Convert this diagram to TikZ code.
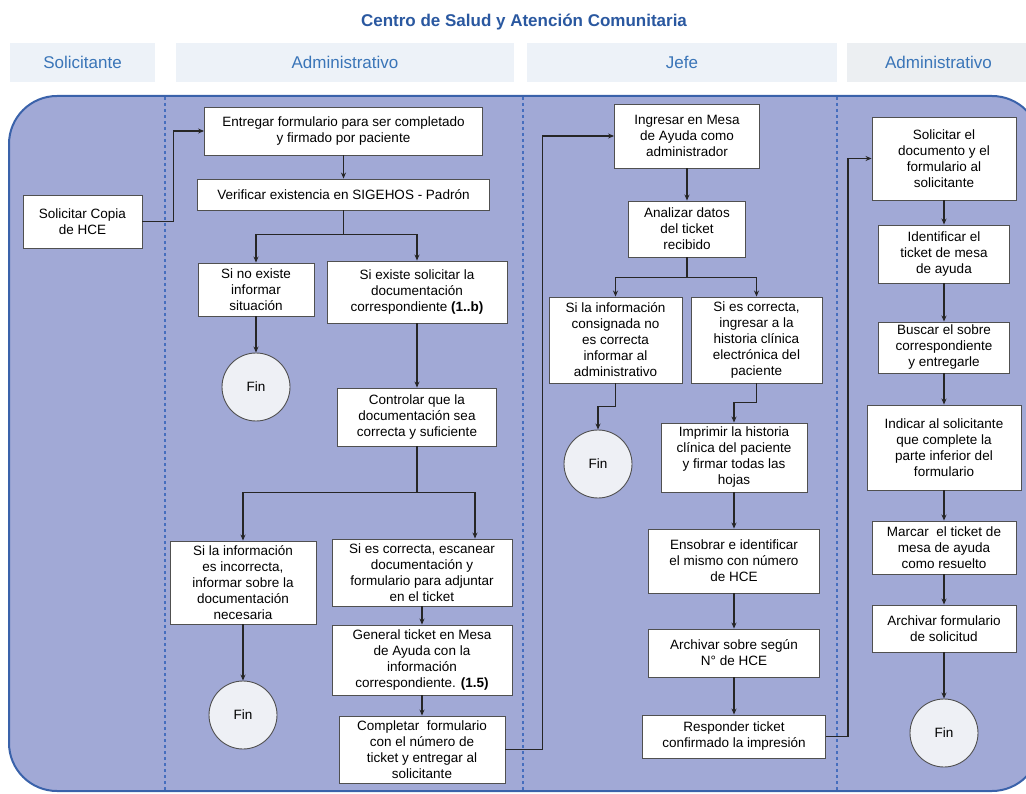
\documentclass[tikz,border=0pt]{standalone}
\usepackage{fontspec}
\setmainfont{Liberation Sans}
\usetikzlibrary{arrows.meta}
\definecolor{lanefill}{RGB}{161,169,214}
\definecolor{laneline}{RGB}{58,98,170}
\definecolor{headfill}{RGB}{237,242,248}
\definecolor{headfillb}{RGB}{236,239,242}
\definecolor{headtext}{RGB}{58,117,184}
\definecolor{titletext}{RGB}{42,88,160}
\definecolor{boxline}{RGB}{80,80,80}
\definecolor{finfill}{RGB}{238,240,245}
\definecolor{sepline}{RGB}{70,110,190}

\begin{document}
\begin{tikzpicture}[x=1pt,y=-1pt,every node/.style={font=\fontsize{13.5}{16}\selectfont, align=center},pbox/.style 2 args={draw=boxline, line width=0.9pt, fill=white, inner sep=1pt, minimum width=#1pt, minimum height=#2pt},fin/.style={circle, draw=boxline, line width=0.9pt, fill=finfill, minimum size=68pt, inner sep=0pt},lane/.style={fill=headfill, minimum height=39pt, text=headtext, font=\fontsize{17}{20}\selectfont},flow/.style={draw=black!85, line width=1.6pt, -{Stealth[length=6pt,width=5pt]}},sep/.style={draw=sepline, line width=1.3pt, dash pattern=on 3pt off 3pt}]
\useasboundingbox (0,0) rectangle (1026,794);
\node[font=\bfseries\fontsize{17}{20}\selectfont, text=titletext] (title) at (524,22) {Centro de Salud y Atención Comunitaria};
\node[lane, minimum width=145pt] (hsol) at (82.5,62.5) {Solicitante};
\node[lane, minimum width=338pt] (hadm) at (345,62.5) {Administrativo};
\node[lane, minimum width=310pt] (hjefe) at (682,62.5) {Jefe};
\node[lane, fill=headfillb, minimum width=183pt] (hadmb) at (938.5,62.5) {Administrativo};
\draw[fill=lanefill, draw=laneline, line width=2pt, rounded corners=48pt] (9,96) rectangle (1040,791);
\draw[sep] (165,97) -- (165,790);
\draw[sep] (523,97) -- (523,790);
\draw[sep] (837,97) -- (837,790);
% Solicitante
\node[pbox={119}{53}] (sol) at (82.5,221.5) {Solicitar Copia\\de HCE};
% Administrativo
\node[pbox={278}{48}] (ent) at (343.5,131) {Entregar formulario para ser completado\\y firmado por paciente};
\node[pbox={292}{31}] (ver) at (343.5,194.5) {Verificar existencia en SIGEHOS - Padrón};
\node[pbox={116}{53}] (noex) at (256,289.5) {Si no existe\\informar\\situación};
\node[pbox={180}{62}] (siex) at (417,292) {Si existe solicitar la\\documentación\\correspondiente \textbf{(1..b)}};
\node[fin] (fin1) at (256,387) {Fin};
\node[pbox={159}{58}] (ctrl) at (417,417) {Controlar que la\\documentación sea\\correcta y suficiente};
\node[pbox={146}{83}] (inc) at (243,582.5) {Si la información\\es incorrecta,\\informar sobre la\\documentación\\necesaria};
\node[pbox={180}{67}] (esc) at (422,572.5) {Si es correcta, escanear\\documentación y\\formulario para adjuntar\\en el ticket};
\node[pbox={180}{70}] (gen) at (422,660) {General ticket en Mesa\\de Ayuda con la\\información\\correspondiente. \textbf{(1.5)}};
\node[pbox={166}{67}] (comp) at (422,749.5) {Completar~ formulario\\con el número de\\ticket y entregar al\\solicitante};
\node[fin] (fin2) at (243,715) {Fin};
% Jefe
\node[pbox={145}{64}] (ing) at (687,136) {Ingresar en Mesa\\de Ayuda como\\administrador};
\node[pbox={117}{56}] (ana) at (687,229) {Analizar datos\\del ticket\\recibido};
\node[pbox={133}{86}] (cons) at (615.5,340) {Si la información\\consignada no\\es correcta\\informar al\\administrativo};
\node[pbox={131}{86}] (corr) at (756.5,340) {Si es correcta,\\ingresar a la\\historia clínica\\electrónica del\\paciente};
\node[fin] (fin3) at (598,464) {Fin};
\node[pbox={146}{69}] (imp) at (734,457.5) {Imprimir la historia\\clínica del paciente\\y firmar todas las\\hojas};
\node[pbox={171}{64}] (ens) at (734,561) {Ensobrar e identificar\\el mismo con número\\de HCE};
\node[pbox={171}{48}] (arch) at (734,653) {Archivar sobre según\\N° de HCE};
\node[pbox={183}{43}] (resp) at (734,736.5) {Responder ticket\\confirmado la impresión};
% Administrativo
\node[pbox={144}{83}] (sdoc) at (944,158.5) {Solicitar el\\documento y el\\formulario al\\solicitante};
\node[pbox={131}{58}] (iden) at (944,254) {Identificar el\\ticket de mesa\\de ayuda};
\node[pbox={131}{51}] (busc) at (944,347.5) {Buscar el sobre\\correspondiente\\y entregarle};
\node[pbox={154}{85}] (ind) at (944,447.5) {Indicar al solicitante\\que complete la\\parte inferior del\\formulario};
\node[pbox={144}{53}] (marc) at (944,547.5) {Marcar~ el ticket de\\mesa de ayuda\\como resuelto};
\node[pbox={144}{47}] (archf) at (944,628.5) {Archivar formulario\\de solicitud};
\node[fin] (fin4) at (944,733) {Fin};
\draw[flow] (sol.east) -- ++(31,0) |- (ent.west);
\draw[flow] (ent) -- (ver);
\draw[flow] (ver.south) -- ++(0,24) -| (noex.north);
\draw[flow] (ver.south) -- ++(0,24) -| (siex.north);
\draw[flow] (noex) -- (fin1);
\draw[flow] (siex) -- (ctrl);
\draw[flow] (ctrl.south) -- ++(0,46) -| (inc.north);
\draw[flow] (ctrl.south) -- ++(0,46) -| ([xshift=53pt]esc.north);
\draw[flow] (inc) -- (fin2);
\draw[flow] (esc) -- (gen);
\draw[flow] (gen) -- (comp);
\draw[flow] (comp.east) -- ++(37,0) |- (ing.west);
\draw[flow] (ing) -- (ana);
\draw[flow] (ana.south) -- ++(0,20) -| (cons.north);
\draw[flow] (ana.south) -- ++(0,20) -| (corr.north);
\draw[flow] (cons.south) -- ++(0,23) -| (fin3.north);
\draw[flow] (corr.south) -- ++(0,19) -| (imp.north);
\draw[flow] (imp) -- (ens);
\draw[flow] (ens) -- (arch);
\draw[flow] (arch) -- (resp);
\draw[flow] (resp.east) -- ++(22,0) |- (sdoc.west);
\draw[flow] (sdoc) -- (iden);
\draw[flow] (iden) -- (busc);
\draw[flow] (busc) -- (ind);
\draw[flow] (ind) -- (marc);
\draw[flow] (marc) -- (archf);
\draw[flow] (archf) -- (fin4);
\end{tikzpicture}
\end{document}
